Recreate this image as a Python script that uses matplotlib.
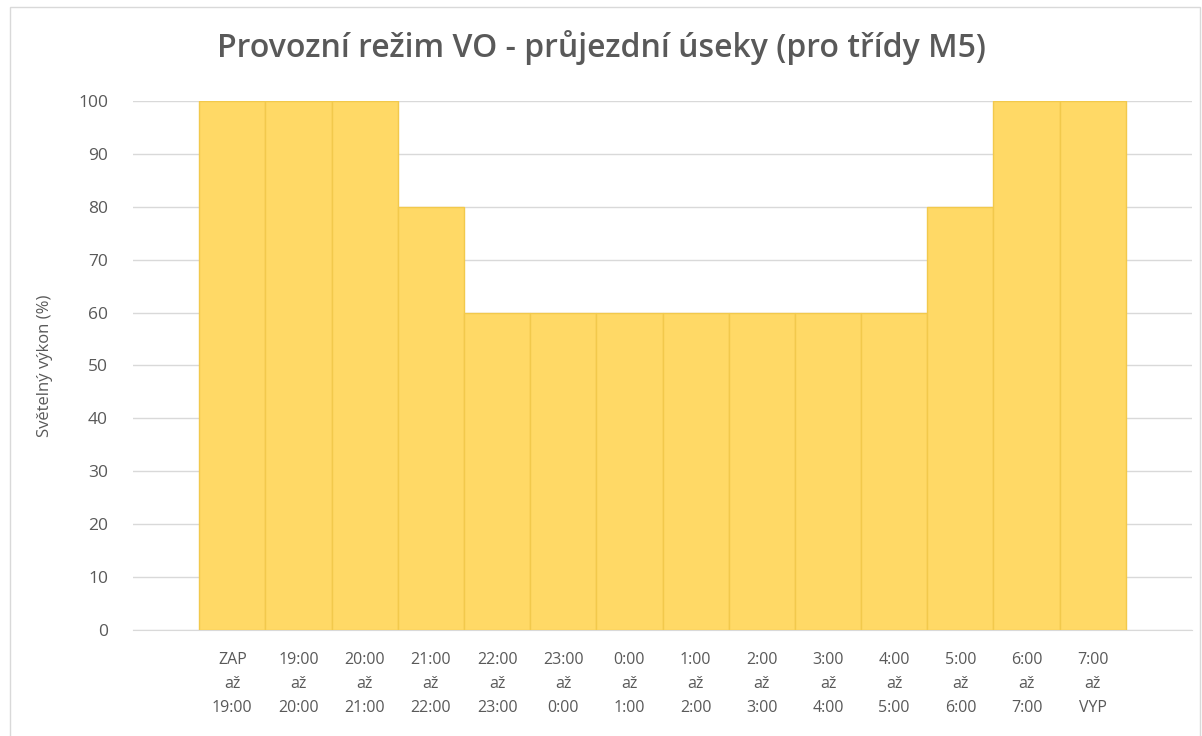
import matplotlib
matplotlib.use("Agg")
import matplotlib.pyplot as plt
from matplotlib.patches import Rectangle

# data
categories = [
    "ZAP\naž\n19:00", "19:00\naž\n20:00", "20:00\naž\n21:00", "21:00\naž\n22:00",
    "22:00\naž\n23:00", "23:00\naž\n0:00", "0:00\naž\n1:00", "1:00\naž\n2:00",
    "2:00\naž\n3:00", "3:00\naž\n4:00", "4:00\naž\n5:00", "5:00\naž\n6:00",
    "6:00\naž\n7:00", "7:00\naž\nVYP",
]
values = [100, 100, 100, 80, 60, 60, 60, 60, 60, 60, 60, 80, 100, 100]
y_ticks = [0, 10, 20, 30, 40, 50, 60, 70, 80, 90, 100]

plt.rcParams["font.family"] = ["Open Sans", "DejaVu Sans"]

fig = plt.figure(figsize=(12.02, 7.36), dpi=100)
ax = fig.add_axes([0.1107, 0.144, 0.881, 0.7188])

x = list(range(len(categories)))
ax.bar(x, values, width=1.0, color="#FFD966", edgecolor="#F2C94C", linewidth=1.0, zorder=3)

ax.set_xlim(-1.5, len(categories) + 0.5)
ax.set_ylim(0, 100)
ax.set_yticks(y_ticks)
ax.set_xticks(x)
ax.set_xticklabels(categories, fontsize=11.5, color="#595959", linespacing=1.65)
ax.tick_params(axis="y", labelsize=12.5, colors="#595959", length=0, pad=18)
ax.tick_params(axis="x", length=0, pad=16)

ax.grid(axis="y", color="#D9D9D9", linewidth=1.0, zorder=0)
for side in ["top", "right", "left"]:
    ax.spines[side].set_visible(False)
ax.spines["bottom"].set_color("#D9D9D9")

ax.set_ylabel("Světelný výkon (%)", fontsize=12, color="#595959", labelpad=18)
fig.text(0.5, 0.935, "Provozní režim VO - průjezdní úseky (pro třídy M5)",
         ha="center", va="center", fontsize=23, color="#595959", weight="semibold")

fig.patches.append(Rectangle((0.008, -0.01), 0.99, 1.0, transform=fig.transFigure,
                             fill=False, edgecolor="#D9D9D9", linewidth=1.0))

fig.savefig("out.png", dpi=100)
